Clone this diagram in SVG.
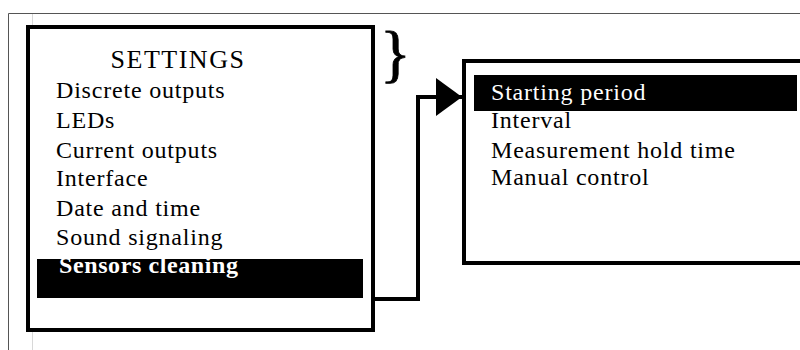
<svg xmlns="http://www.w3.org/2000/svg" width="800" height="350" viewBox="0 0 800 350">
  <defs>
    <style>
      .frame { fill: none; stroke: #555; stroke-width: 1; }
      .faint { fill: none; stroke: #d8d8d8; stroke-width: 1; }
      .box { fill: #fff; stroke: #000; stroke-width: 4; }
      .bar { fill: #000; }
      .item { font-family: "Liberation Serif", "Times New Roman", serif; font-size: 24px; letter-spacing: 0.8px; fill: #000; }
      .title { font-family: "Liberation Serif", "Times New Roman", serif; font-size: 26px; letter-spacing: 1.5px; fill: #000; text-anchor: middle; }
      .sel { fill: #fff; }
      .bold { font-weight: bold; letter-spacing: 0.6px; }
      .brace { font-family: "Liberation Serif", "Times New Roman", serif; font-size: 64px; fill: #000; stroke: #000; stroke-width: 0.8; }
      .wire { fill: none; stroke: #000; stroke-width: 4; stroke-linejoin: miter; }
    </style>
    <marker id="arrow" viewBox="0 0 26 38" refX="26" refY="19" markerWidth="26" markerHeight="38" markerUnits="userSpaceOnUse" orient="auto">
      <path d="M0,0 L26,19 L0,38 Z" fill="#000"/>
    </marker>
  </defs>

  <!-- page frame -->
  <path class="frame" d="M8.5,350 V13.5 H800"/>
  <path class="faint" d="M32.5,14 V350"/>

  <!-- settings menu -->
  <g id="settings-menu">
    <rect class="box" x="28" y="27" width="345" height="303"/>
    <text class="title" x="178" y="68">SETTINGS</text>
    <text class="item" x="56" y="98">Discrete outputs</text>
    <text class="item" x="56" y="128">LEDs</text>
    <text class="item" x="56" y="158">Current outputs</text>
    <text class="item" x="56" y="186">Interface</text>
    <text class="item" x="56" y="216">Date and time</text>
    <text class="item" x="56" y="245">Sound signaling</text>
    <rect class="bar" x="37" y="259" width="326" height="39"/>
    <text class="item sel bold" x="59" y="273">Sensors cleaning</text>
  </g>

  <!-- brace beside the menu -->
  <g id="brace">
    <text class="brace" x="380" y="75">}</text>
  </g>

  <!-- cleaning submenu -->
  <g id="cleaning-menu">
    <rect class="box" x="464" y="61" width="345" height="202"/>
    <rect class="bar" x="474" y="75" width="323" height="36"/>
    <text class="item sel" x="491" y="100">Starting period</text>
    <text class="item" x="491" y="128">Interval</text>
    <text class="item" x="491" y="158">Measurement hold time</text>
    <text class="item" x="491" y="185">Manual control</text>
  </g>

  <!-- connectors -->
  <g id="connectors">
    <path class="wire" d="M375,299 H418 V97 H462" marker-end="url(#arrow)"/>
  </g>
</svg>
